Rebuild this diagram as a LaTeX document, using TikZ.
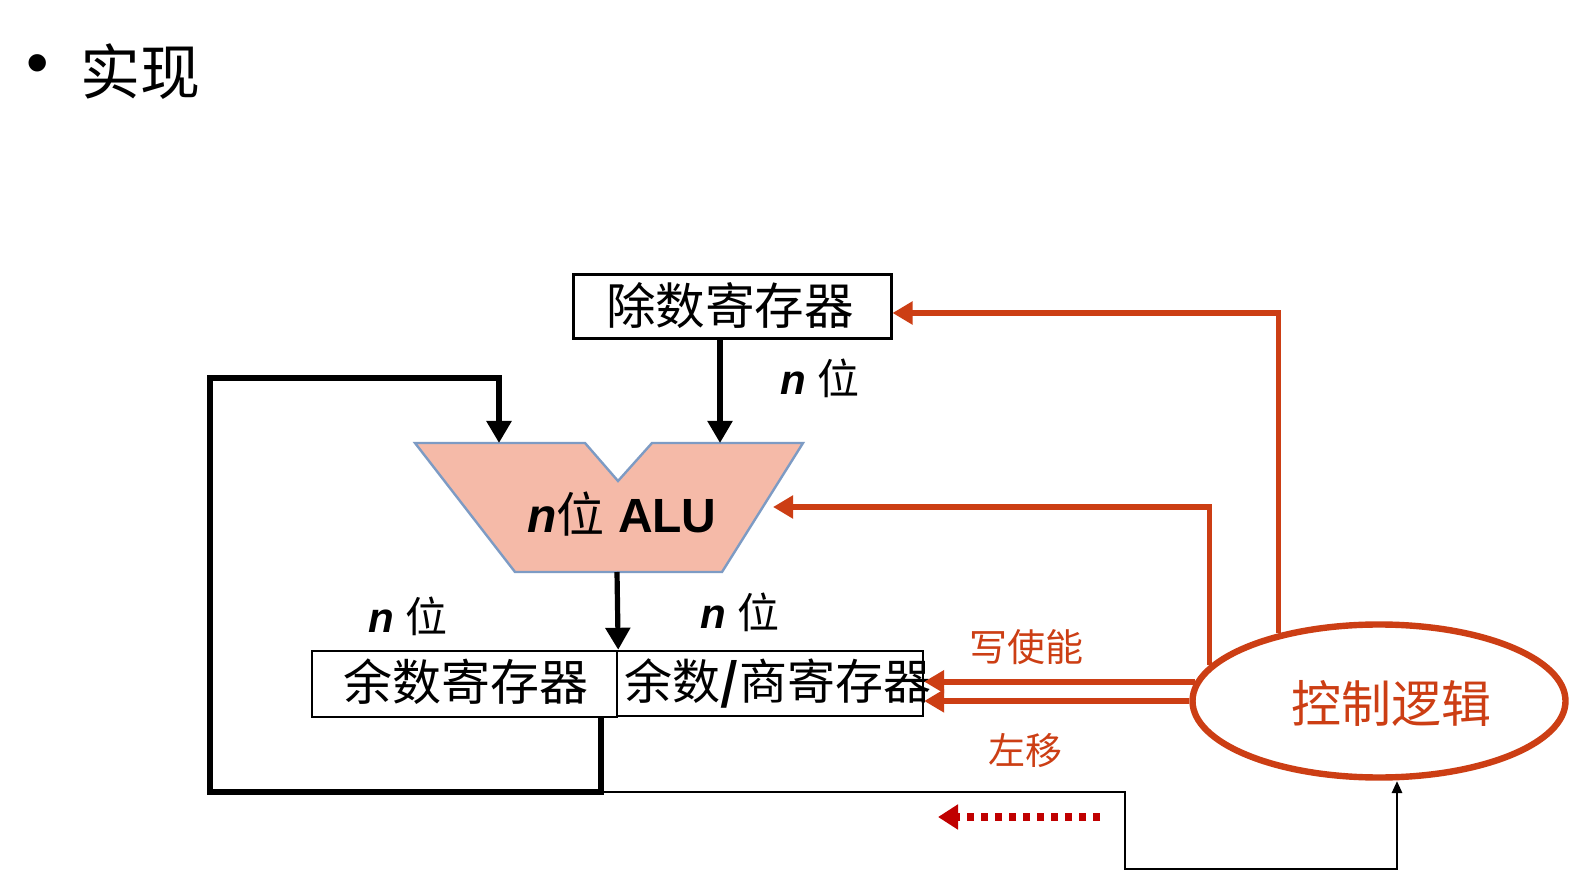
\documentclass[tikz,border=0pt]{standalone}
\usepackage{fontspec}
\setmainfont{Liberation Sans}
\newfontfamily\cjk{Noto Sans CJK SC}
\usetikzlibrary{arrows.meta,shapes.geometric}
\definecolor{ctlred}{RGB}{204,62,20}
\definecolor{darkred}{RGB}{192,0,0}
\definecolor{alufill}{RGB}{245,186,168}
\definecolor{aluedge}{RGB}{125,155,196}
\newcommand{\fs}[1]{\fontsize{#1pt}{#1pt}\selectfont}
\newcommand{\nbit}{\textbf{\textit{n}}}
\begin{document}
\begin{tikzpicture}[x=0.5pt,y=-0.5pt,
  reg/.style={draw=black, line width=1.2pt, inner sep=0pt, fill=white},
  lbl/.style={inner sep=0pt, anchor=center},
  blkarrow/.style={line width=2.6pt, -{Triangle[length=11pt,width=12pt]}},
  thinarrow/.style={line width=1.3pt, -{Triangle[length=6pt,width=5pt]}},
  redarrow/.style={draw=ctlred, line width=2.7pt, -{Triangle[length=10pt,width=11pt]}},
  ctlstyle/.style={ellipse, draw=ctlred, line width=3.2pt, inner sep=0pt, minimum width=186.5pt, minimum height=76.5pt}
]
\useasboundingbox (0,0) rectangle (1589,886);
\fill[white] (0,0) rectangle (1589,886);

% title
\node[lbl] (bullet) at (38,70) {\fs{32}•};
\node[lbl] (title) at (140,72) {\cjk\fs{30}实现};

% registers
\node[reg, line width=1.5pt, minimum width=159pt, minimum height=32pt] (div) at (732,307) {};
\node[lbl] (divtxt) at (730,306) {\cjk\fs{24.8}除数寄存器};
\node[reg, minimum width=152.5pt, minimum height=33pt] (rem) at (464.5,684) {};
\node[reg, minimum width=153pt, minimum height=32.5pt] (quo) at (770,683.5) {};
\node[lbl] (remtxt) at (466,682) {\cjk\fs{24.5}余数寄存器};
\node[lbl] (quotxt) at (778,683) {\fs{24}\cjk 余数\textbf{\textit{/}}商寄存器};

% ALU
\fill[alufill, draw=aluedge, line width=1.2pt]
  (415,443) -- (585,443) -- (618,481) -- (652,443) -- (803,443) -- (722,572) -- (515,572) -- cycle;
\node[lbl] (alu) at (622,514) {\fs{24}\textbf{\textit{n}}{\cjk 位} \textbf{ALU}};
\coordinate (aluin1) at (499,443);
\coordinate (aluin2) at (720,443);
\coordinate (aluout) at (617,572);
\coordinate (aluctl) at (773,507);

% control logic
\node[ctlstyle] (ctl) at (1379,701) {};
\node[lbl, text=ctlred] (ctltxt) at (1391,703) {\cjk\fs{25}控制逻辑};

% black connectors
\draw[blkarrow] (div.south -| aluin2) -- (aluin2);
\draw[blkarrow] (aluout) -- (rem.north east);
\coordinate (remtap) at (601,717);
\coordinate (loopc) at (601,792);
\draw[blkarrow, line width=2.8pt, line join=miter] (remtap) -- (loopc) -- (210,792) -- (210,378) -- (499,378) -- (aluin1);
\draw[thinarrow] (loopc) -- (1125,792) -- (1125,869) -- (1397,869) -- (1397,781);

% labels n 位
\node[lbl] (nb1) at (820,378) {\fs{21}\nbit\ {\cjk 位}};
\node[lbl] (nb2) at (408,616) {\fs{21}\nbit\ {\cjk 位}};
\node[lbl] (nb3) at (740,612) {\fs{21}\nbit\ {\cjk 位}};

% red control connectors
\draw[redarrow] (ctl.146) |- ([yshift=-3pt]div.east);
\draw[redarrow] (ctl.168) |- (aluctl);
\draw[redarrow, line width=3pt] (ctl.174) -- (ctl.174 -| quo.east);
\draw[redarrow, line width=3pt] (ctl.west) -- (ctl.west -| quo.east);
\node[lbl, text=ctlred] (we) at (1026,647) {\cjk\fs{19}写使能};
\node[lbl, text=ctlred] (sl) at (1025,751) {\cjk\fs{18.5}左移};

% dotted arrow
\coordinate (dotS) at (1100,817);
\coordinate (dotE) at (938,817);
\draw[draw=darkred, line width=4pt, dash pattern=on 3.5pt off 3.5pt, -{Triangle[length=10pt,width=12pt]}] (dotS) -- (dotE);
\end{tikzpicture}
\end{document}
